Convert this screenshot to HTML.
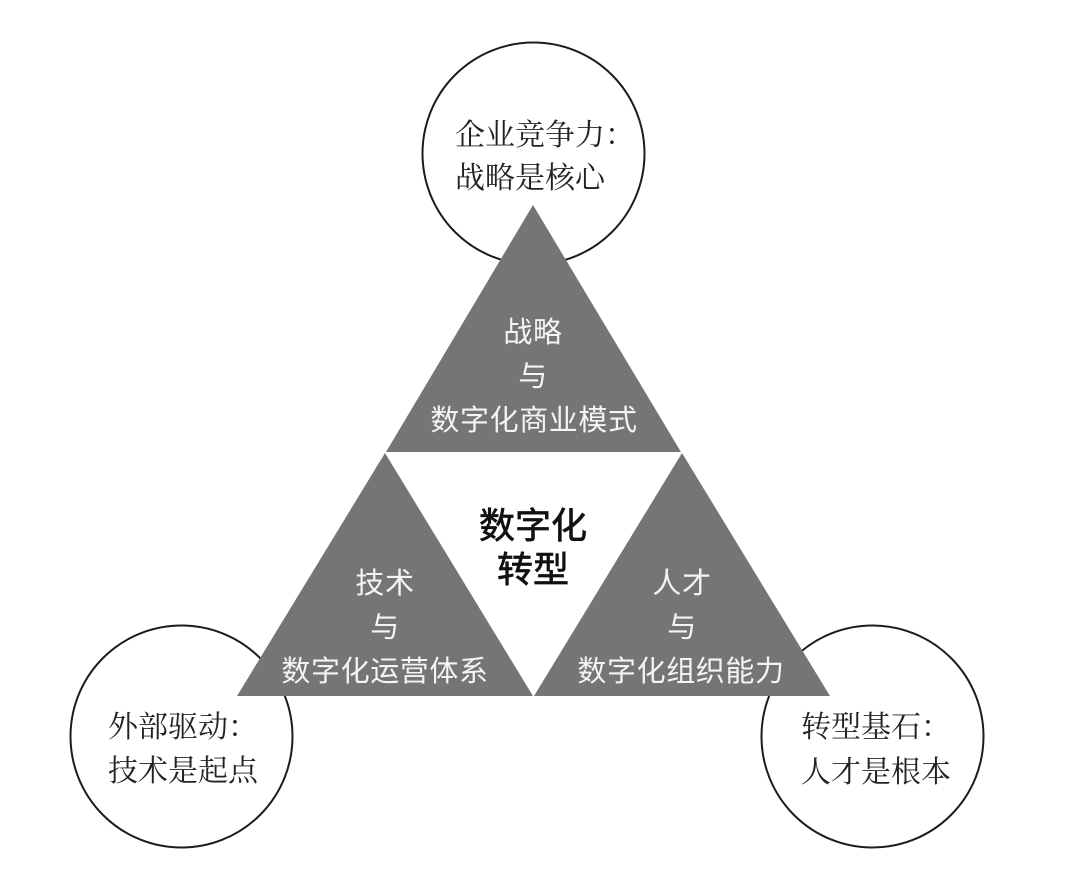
<!DOCTYPE html>
<html>
<head>
<meta charset="utf-8">
<style>
html,body{margin:0;padding:0;background:#fff;width:1080px;height:876px;overflow:hidden}
svg{display:block}
.s{font-family:"Liberation Serif","Noto Serif CJK SC",serif;font-size:30px;fill:#222}
.w{font-family:"Liberation Sans","Noto Sans CJK SC",sans-serif;font-size:29px;fill:#f4f4f4;letter-spacing:.6px}
.b{font-family:"Liberation Sans","Noto Sans CJK SC",sans-serif;font-size:36px;fill:#111;stroke:#111;stroke-width:.7px}
</style>
</head>
<body>
<svg width="1080" height="876" viewBox="0 0 1080 876" xmlns="http://www.w3.org/2000/svg">
<circle cx="533.500" cy="153.500" r="111" fill="#fff" stroke="#1c1c1c" stroke-width="2"/>
<circle cx="181.500" cy="736.500" r="111" fill="#fff" stroke="#1c1c1c" stroke-width="2"/>
<circle cx="872.500" cy="736.500" r="111" fill="#fff" stroke="#1c1c1c" stroke-width="2"/>
<polygon points="533,205 681,452 386,452" fill="#777475"/>
<polygon points="385,453 533,696 237,696" fill="#777475"/>
<polygon points="682,453 830,696 534,696" fill="#777475"/>
<text class="s" x="455" y="145">企业竞争力：</text>
<text class="s" x="455" y="188">战略是核心</text>
<text class="s" x="108" y="737">外部驱动：</text>
<text class="s" x="108" y="781">技术是起点</text>
<text class="s" x="801" y="737">转型基石：</text>
<text class="s" x="801" y="782">人才是根本</text>
<text class="w" x="533" y="342" text-anchor="middle">战略</text>
<text class="w" x="533" y="386" text-anchor="middle">与</text>
<text class="w" x="534" y="430" text-anchor="middle">数字化商业模式</text>
<text class="w" x="385" y="593" text-anchor="middle">技术</text>
<text class="w" x="385" y="637" text-anchor="middle">与</text>
<text class="w" x="385" y="681" text-anchor="middle">数字化运营体系</text>
<text class="w" x="682" y="593" text-anchor="middle">人才</text>
<text class="w" x="682" y="637" text-anchor="middle">与</text>
<text class="w" x="681" y="681" text-anchor="middle">数字化组织能力</text>
<text class="b" x="533" y="538" text-anchor="middle">数字化</text>
<text class="b" x="533" y="582" text-anchor="middle">转型</text>
</svg>
</body>
</html>
